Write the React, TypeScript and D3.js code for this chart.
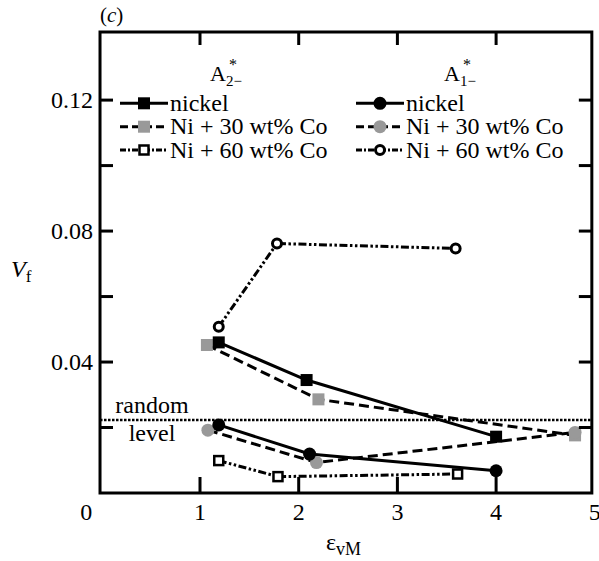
import React from "react";
import { scaleLinear, line } from "d3";

// [strain, volume fraction]
const a2Nickel = [[1.19, 0.046], [2.08, 0.0345], [4.0, 0.0172]];
const a2Co30 = [[1.07, 0.0452], [2.2, 0.0286], [4.8, 0.0176]];
const a2Co60 = [[1.19, 0.0099], [1.79, 0.005], [3.61, 0.0058]];
const a1Nickel = [[1.19, 0.0208], [2.11, 0.0119], [4.0, 0.0068]];
const a1Co30 = [[1.08, 0.0192], [2.18, 0.0093], [4.8, 0.0185]];
const a1Co60 = [[1.19, 0.0508], [1.78, 0.0762], [3.59, 0.0747]];
const randomLevel = 0.0223;

const xTickLabels = [0, 1, 2, 3, 4, 5];
const xTicks = [1, 2, 3, 4];
const yTicks = [0.02, 0.04, 0.06, 0.08, 0.1, 0.12];
const yTickLabels = [0.04, 0.08, 0.12];
const legendNames = ["nickel", "Ni + 30 wt% Co", "Ni + 60 wt% Co"];

const TF = { fontFamily: '"Liberation Serif"' };
const GRAY = "#999999";
const SOLID = "none";
const DASHED = "10,5";
const DASHDOT = "8,2.5,2.5,2.5,2.5,2.5";

export default function App() {
  const width = 599,
    height = 561;
  const xMinFrame = -0.013,
    xMaxFrame = 4.97;

  const x = scaleLinear().domain([0, 5]).range([101.3, 594.8]);
  const y = scaleLinear().domain([0, 0.1408]).range([493, 32]);

  const path = line<number[]>()
    .x(d => x(d[0]))
    .y(d => y(d[1]));

  const left = x(xMinFrame),
    right = x(xMaxFrame),
    top = y.range()[1],
    bottom = y.range()[0];

  const series = [
    { data: a2Co30, dash: DASHED, marker: "square", fill: GRAY },
    { data: a1Co30, dash: DASHED, marker: "circle", fill: GRAY },
    { data: a2Nickel, dash: SOLID, marker: "square", fill: "black" },
    { data: a1Nickel, dash: SOLID, marker: "circle", fill: "black" },
    { data: a2Co60, dash: DASHDOT, marker: "osquare", fill: "white" },
    { data: a1Co60, dash: DASHDOT, marker: "ocircle", fill: "white" }
  ];

  const drawMarker = (kind: string, cx: number, cy: number, fill: string, key: string) => {
    if (kind === "square")
      return <rect key={key} x={cx - 6} y={cy - 6} width={12} height={12} fill={fill} />;
    if (kind === "circle") return <circle key={key} cx={cx} cy={cy} r={6.5} fill={fill} />;
    if (kind === "osquare")
      return (
        <rect key={key} x={cx - 4.5} y={cy - 4.5} width={9} height={9} fill="white" stroke="black" strokeWidth={2.5} />
      );
    return <circle key={key} cx={cx} cy={cy} r={4.5} fill="white" stroke="black" strokeWidth={3} />;
  };

  const legendLeft = [
    { dash: SOLID, marker: "square", fill: "black" },
    { dash: DASHED, marker: "square", fill: GRAY },
    { dash: DASHDOT, marker: "osquare", fill: "white" }
  ];
  const legendRight = [
    { dash: SOLID, marker: "circle", fill: "black" },
    { dash: DASHED, marker: "circle", fill: GRAY },
    { dash: DASHDOT, marker: "ocircle", fill: "white" }
  ];
  const legendRows = [103.3, 126.7, 150];

  const legendBlock = (items: any[], x0: number, prefix: string) =>
    items.map((it, i) => (
      <g key={prefix + i}>
        <line
          x1={x0}
          x2={x0 + 48}
          y1={legendRows[i]}
          y2={legendRows[i]}
          stroke="black"
          strokeWidth={3}
          strokeDasharray={it.dash === "none" ? undefined : it.dash === DASHED ? "8,4" : "6,2,2,2"}
        />
        {drawMarker(it.marker, x0 + 24, legendRows[i], it.fill, prefix + "m" + i)}
        <text x={x0 + 50} y={legendRows[i] + 7.5} fontSize={24} style={TF}>
          {legendNames[i]}
        </text>
      </g>
    ));

  return (
    <svg width={width} height={height} style={{ position: "absolute", left: 0, top: 0, background: "white" }}>
      <text x={100} y={22} fontSize={21} style={TF}>
        (<tspan fontStyle="italic">c</tspan>)
      </text>

      {/* random level */}
      <line
        x1={left}
        x2={right}
        y1={y(randomLevel)}
        y2={y(randomLevel)}
        stroke="black"
        strokeWidth={2.5}
        strokeDasharray="2.5,1.5"
      />
      <text x={152} y={y(randomLevel) - 6.5} fontSize={24} textAnchor="middle" style={TF}>
        random
      </text>
      <text x={152} y={y(randomLevel) + 21.5} fontSize={24} textAnchor="middle" style={TF}>
        level
      </text>

      {series.map((s, i) => (
        <path
          key={"l" + i}
          d={path(s.data) || ""}
          fill="none"
          stroke="black"
          strokeWidth={3}
          strokeDasharray={s.dash === "none" ? undefined : s.dash}
        />
      ))}
      {series.map((s, i) => s.data.map((d, j) => drawMarker(s.marker, x(d[0]), y(d[1]), s.fill, `m${i}-${j}`)))}

      {/* frame and ticks */}
      <rect x={left} y={top} width={right - left} height={bottom - top} fill="none" stroke="black" strokeWidth={3} />
      {xTicks.map(t => (
        <g key={"xt" + t}>
          <line x1={x(t)} x2={x(t)} y1={bottom} y2={bottom - 16} stroke="black" strokeWidth={3} />
          <line x1={x(t)} x2={x(t)} y1={top} y2={top + 13} stroke="black" strokeWidth={3} />
        </g>
      ))}
      {yTicks.map(t => (
        <g key={"yt" + t}>
          <line x1={left} x2={left + 13} y1={y(t)} y2={y(t)} stroke="black" strokeWidth={3} />
          <line x1={right} x2={right - 13} y1={y(t)} y2={y(t)} stroke="black" strokeWidth={3} />
        </g>
      ))}
      {xTickLabels.map(t => (
        <text key={"xl" + t} x={x(t) - (t === 0 ? 15 : 0)} y={520} fontSize={24} textAnchor="middle" style={TF}>
          {t}
        </text>
      ))}
      {yTickLabels.map(t => (
        <text key={"yl" + t} x={93} y={y(t) + 8} fontSize={24} textAnchor="end" style={TF}>
          {t.toFixed(2)}
        </text>
      ))}

      {/* axis titles */}
      <text x={326} y={550} fontSize={24} style={TF}>
        ε<tspan fontSize={18} dy={5}>vM</tspan>
      </text>
      <text x={11} y={277} fontSize={24} style={TF}>
        <tspan fontStyle="italic">V</tspan>
        <tspan fontSize={17} dy={5}>f</tspan>
      </text>

      {/* legend headers */}
      <text x={210} y={81} fontSize={22} style={TF}>
        A<tspan fontSize={15} dy={5}>2−</tspan>
      </text>
      <text x={229} y={70} fontSize={16} style={TF}>*</text>
      <text x={444} y={81} fontSize={22} style={TF}>
        A<tspan fontSize={15} dy={5}>1−</tspan>
      </text>
      <text x={463} y={70} fontSize={16} style={TF}>*</text>

      {legendBlock(legendLeft, 120, "L")}
      {legendBlock(legendRight, 356, "R")}
    </svg>
  );
}
